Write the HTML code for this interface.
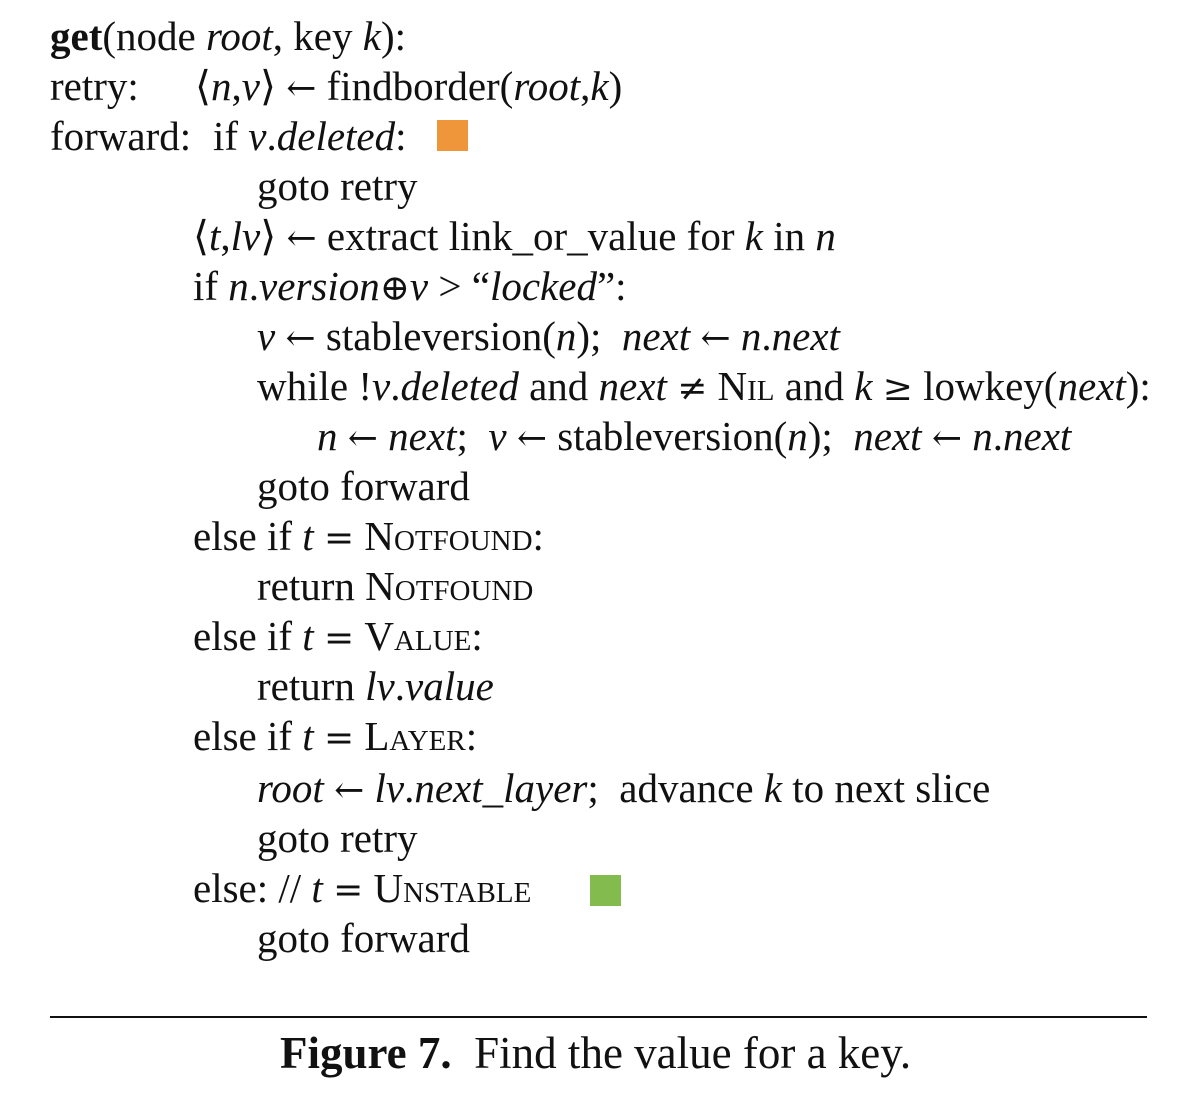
<!DOCTYPE html>
<html><head><meta charset="utf-8"><style>
html,body{margin:0;padding:0;background:#fff;}
body{width:1202px;height:1102px;position:relative;overflow:hidden;font-family:"Liberation Serif",serif;color:#111;}
.l{position:absolute;font-size:41px;line-height:48px;white-space:pre;}
i{font-style:italic}
.sc{font-variant:small-caps;}
.a{font-family:"DejaVu Serif",serif;font-size:36px;}
.sq{position:absolute;width:31px;height:31px;}
</style></head><body>
<div>
<div class="l" style="left:50px;top:12px"><b>get</b>(node <i>root</i>, key <i>k</i>):</div>
<div class="l" style="left:50px;top:62px">retry:</div>
<div class="l" style="left:195px;top:62px">⟨<i>n</i>,<i>v</i>⟩ <span class="a">←</span> findborder(<i>root</i>,<i>k</i>)</div>
<div class="l" style="left:50px;top:112px">forward:</div>
<div class="l" style="left:213px;top:112px">if <i>v</i>.<i>deleted</i>:</div>
<div class="sq" style="left:437px;top:120px;background:#f0963a"></div>
<div class="l" style="left:257px;top:162px">goto retry</div>
<div class="l" style="left:193px;top:212px">⟨<i>t</i>,<i>lv</i>⟩ <span class="a">←</span> extract link_or_value for <i>k</i> in <i>n</i></div>
<div class="l" style="left:193px;top:262px">if <i>n</i>.<i>version</i><span class="a">⊕</span><i>v</i> &gt; “<i>locked</i>”:</div>
<div class="l" style="left:257px;top:312px"><i>v</i> <span class="a">←</span> stableversion(<i>n</i>);  <i>next</i> <span class="a">←</span> <i>n</i>.<i>next</i></div>
<div class="l" style="left:257px;top:362px">while !<i>v</i>.<i>deleted</i> and <i>next</i> <span class="a">≠</span> <span class="sc">Nil</span> and <i>k</i> <span class="a">≥</span> lowkey(<i>next</i>):</div>
<div class="l" style="left:317px;top:412px"><i>n</i> <span class="a">←</span> <i>next</i>;  <i>v</i> <span class="a">←</span> stableversion(<i>n</i>);  <i>next</i> <span class="a">←</span> <i>n</i>.<i>next</i></div>
<div class="l" style="left:257px;top:462px">goto forward</div>
<div class="l" style="left:193px;top:512px">else if <i>t</i> <span class="a">=</span> <span class="sc">Notfound</span>:</div>
<div class="l" style="left:257px;top:562px">return <span class="sc">Notfound</span></div>
<div class="l" style="left:193px;top:612px">else if <i>t</i> <span class="a">=</span> <span class="sc">Value</span>:</div>
<div class="l" style="left:257px;top:662px">return <i>lv</i>.<i>value</i></div>
<div class="l" style="left:193px;top:712px">else if <i>t</i> <span class="a">=</span> <span class="sc">Layer</span>:</div>
<div class="l" style="left:257px;top:764px"><i>root</i> <span class="a">←</span> <i>lv</i>.<i>next_layer</i>;  advance <i>k</i> to next slice</div>
<div class="l" style="left:257px;top:814px">goto retry</div>
<div class="l" style="left:193px;top:864px">else: // <i>t</i> <span class="a">=</span> <span class="sc">Unstable</span></div>
<div class="sq" style="left:590px;top:875px;background:#84bb4f"></div>
<div class="l" style="left:257px;top:914px">goto forward</div>
</div>
<div style="position:absolute;left:50px;top:1016px;width:1097px;height:2px;background:#111"></div>
<div class="l" style="left:280px;top:1027px;font-size:45px;line-height:52px"><b>Figure 7.</b>  Find the value for a key.</div>
</body></html>
